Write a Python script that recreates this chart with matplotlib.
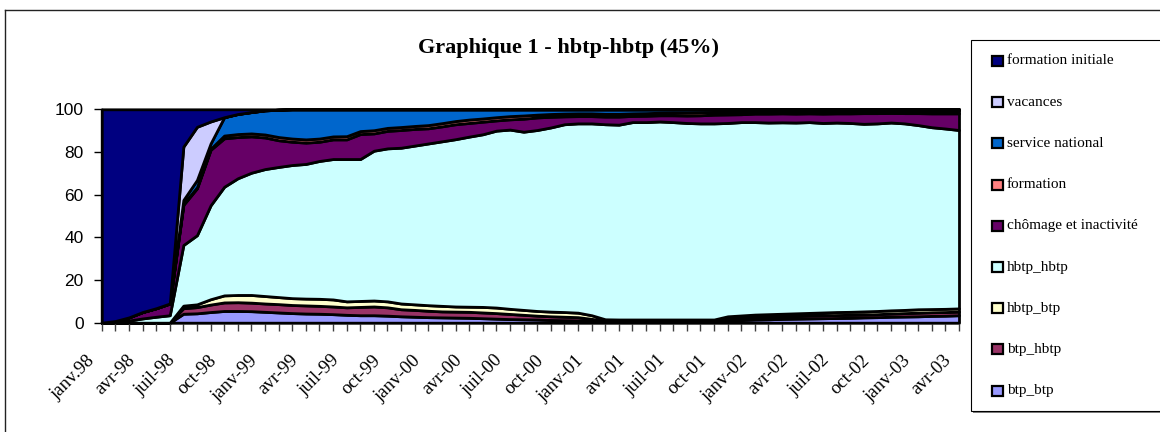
import numpy as np
import matplotlib
matplotlib.use("Agg")
import matplotlib.pyplot as plt
import matplotlib.transforms as mtransforms
from matplotlib.patches import Rectangle
from matplotlib.lines import Line2D

# ---------------- données : parts mensuelles (%) de janv.98 à avr.03 ----------------
tick_labels = ["janv.98", "avr-98", "juil-98", "oct-98",
               "janv-99", "avr-99", "juil-99", "oct-99",
               "janv-00", "avr-00", "juil-00", "oct-00",
               "janv-01", "avr-01", "juil-01", "oct-01",
               "janv-02", "avr-02", "juil-02", "oct-02",
               "janv-03", "avr-03"]

noms = ["btp_btp", "btp_hbtp", "hbtp_btp", "hbtp_hbtp", "chômage et inactivité",
        "formation", "service national", "vacances", "formation initiale"]

btp_btp = [0, 0, 0, 0, 0, 0,
           4.2, 4.4, 5.0, 5.5, 5.5, 5.4, 5.1, 4.8, 4.5, 4.3,
           4.2, 4.0, 3.7, 3.5, 3.5, 3.3, 3.0, 2.8, 2.6, 2.5,
           2.4, 2.3, 2.1, 1.9, 1.7, 1.6, 1.5, 1.3, 1.2, 1.1,
           0.8, 0.6, 0.6, 0.6, 0.6, 0.6, 0.6, 0.6, 0.6, 0.6,
           1.0, 1.3, 1.5, 1.6, 1.8, 1.9, 2.0, 2.1, 2.2, 2.3,
           2.5, 2.6, 2.8, 2.9, 3.0, 3.2, 3.3, 3.5]

btp_hbtp = [0, 0, 0, 0, 0, 0,
            2.6, 2.9, 3.5, 4.0, 4.1, 4.0, 3.9, 3.9, 3.8, 3.8,
            3.7, 3.6, 3.5, 3.9, 4.1, 3.9, 3.3, 3.2, 3.0, 2.8,
            2.8, 2.8, 2.7, 2.6, 2.4, 2.1, 1.8, 1.7, 1.6, 1.5,
            1.0, 0.4, 0.4, 0.4, 0.4, 0.4, 0.4, 0.4, 0.4, 0.4,
            1.0, 1.0, 1.1, 1.2, 1.2, 1.3, 1.4, 1.4, 1.4, 1.4,
            1.4, 1.4, 1.5, 1.6, 1.7, 1.7, 1.7, 1.7]

hbtp_btp = [0, 0, 0, 0, 0, 0,
            1.2, 1.3, 2.5, 3.3, 3.4, 3.6, 3.5, 3.3, 3.2, 3.2,
            3.3, 3.3, 2.8, 2.8, 2.8, 2.8, 2.7, 2.6, 2.6, 2.6,
            2.4, 2.4, 2.6, 2.6, 2.4, 2.3, 2.2, 2.2, 2.2, 2.1,
            1.7, 0.6, 0.5, 0.5, 0.5, 0.5, 0.5, 0.5, 0.5, 0.5,
            1.0, 1.1, 1.2, 1.2, 1.2, 1.2, 1.2, 1.3, 1.4, 1.4,
            1.4, 1.5, 1.5, 1.5, 1.6, 1.5, 1.5, 1.5]

hbtp_hbtp = [0, 0.3, 1.0, 2.0, 2.8, 3.5,
             28.4, 32.4, 44.0, 50.9, 54.7, 57.3, 59.5, 61.0, 62.4, 63.1,
             64.6, 65.8, 66.7, 66.5, 70.2, 71.7, 73.0, 74.4, 75.8, 77.1,
             78.4, 79.7, 80.9, 82.9, 84.0, 83.5, 84.8, 86.3, 88.0, 88.7,
             89.9, 91.4, 91.3, 92.5, 92.5, 92.8, 92.5, 92.1, 91.9, 91.9,
             90.6, 90.6, 90.2, 89.8, 89.7, 89.4, 89.4, 88.8, 88.8, 88.5,
             87.9, 87.9, 88.0, 87.4, 86.3, 85.2, 84.5, 83.6]

chomage = [0, 0.5, 1.5, 3.0, 4.0, 5.5,
           18.8, 22.0, 26.0, 22.7, 19.3, 17.0, 14.8, 12.5, 10.9, 10.0,
           9.0, 9.2, 9.2, 11.7, 8.1, 8.2, 8.3, 7.8, 7.1, 7.0,
           7.0, 6.4, 5.9, 4.8, 4.8, 6.1, 5.9, 5.0, 3.7, 3.4,
           3.4, 3.6, 3.8, 2.9, 3.0, 2.9, 3.2, 3.5, 3.8, 4.1,
           4.0, 3.7, 4.0, 4.2, 4.2, 4.2, 4.1, 4.4, 4.3, 4.5,
           5.0, 4.8, 4.5, 4.8, 5.6, 6.5, 7.1, 7.8]

formation = [0, 0, 0, 0, 0, 0,
             0.5, 0.5, 0.5, 1.3, 1.4, 1.4, 1.4, 1.5, 1.5, 1.5,
             1.5, 1.4, 1.5, 1.4, 1.5, 1.4, 1.4, 1.4, 1.5, 1.5,
             1.5, 1.6, 1.5, 1.5, 1.5, 1.5, 1.3, 1.3, 1.3, 1.3,
             1.3, 1.3, 1.3, 1.2, 1.2, 1.2, 1.3, 1.4, 1.4, 1.2,
             1.2, 1.2, 1.0, 1.0, 1.0, 1.0, 1.0, 1.1, 1.1, 1.1,
             1.0, 1.1, 1.0, 1.1, 1.1, 1.2, 1.2, 1.2]

service_national = [0, 0, 0, 0, 0, 0,
                    1.8, 3.4, 2.5, 8.6, 9.4, 10.0, 11.3, 12.8, 13.7, 14.1,
                    13.7, 12.7, 12.6, 10.2, 9.8, 8.7, 8.3, 7.8, 7.4, 6.5,
                    5.5, 4.8, 4.3, 3.7, 3.2, 2.9, 2.5, 2.2, 2.0, 1.9,
                    1.9, 2.1, 2.1, 1.9, 1.8, 1.6, 1.5, 1.5, 1.4, 1.3,
                    1.2, 1.1, 1.0, 1.0, 0.9, 1.0, 0.9, 0.9, 0.8, 0.8,
                    0.8, 0.7, 0.7, 0.7, 0.7, 0.7, 0.7, 0.7]

vacances = [0, 0, 0, 0, 0, 0,
            25.0, 24.9, 10.3, 0, 0, 0, 0, 0, 0, 0,
            0, 0, 0, 0, 0, 0, 0, 0, 0, 0,
            0, 0, 0, 0, 0, 0, 0, 0, 0, 0,
            0, 0, 0, 0, 0, 0, 0, 0, 0, 0,
            0, 0, 0, 0, 0, 0, 0, 0, 0, 0,
            0, 0, 0, 0, 0, 0, 0, 0]

formation_initiale = [100, 99.2, 97.5, 95.0, 93.2, 91.0,
                      17.5, 8.2, 5.7, 3.7, 2.2, 1.3, 0.5, 0.2, 0, 0,
                      0, 0, 0, 0, 0, 0, 0, 0, 0, 0,
                      0, 0, 0, 0, 0, 0, 0, 0, 0, 0,
                      0, 0, 0, 0, 0, 0, 0, 0, 0, 0,
                      0, 0, 0, 0, 0, 0, 0, 0, 0, 0,
                      0, 0, 0, 0, 0, 0, 0, 0]

couleurs = ["#9999FF", "#993366", "#FFFFCC", "#CCFFFF", "#660066",
            "#FF8080", "#0066CC", "#CCCCFF", "#000080"]

series = [btp_btp, btp_hbtp, hbtp_btp, hbtp_hbtp, chomage,
          formation, service_national, vacances, formation_initiale]

# ---------------- figure ----------------
W, H = 1160, 432
fig = plt.figure(figsize=(W / 100, H / 100), dpi=100)
fig.patch.set_facecolor("white")

x0, x1, y_top, y_bot = 101.7, 959.0, 109.3, 322.7
ax = fig.add_axes([x0 / W, 1 - y_bot / H, (x1 - x0) / W, (y_bot - y_top) / H])

x = np.arange(len(btp_btp))
polys = ax.stackplot(x, *series, colors=couleurs, edgecolor="black", linewidth=2.0)
for p in polys:
    p.set_clip_on(False)
    p.set_joinstyle("round")

ax.set_xlim(0, len(x) - 1)
ax.set_ylim(0, 100)
for s in ["top", "right"]:
    ax.spines[s].set_visible(False)
for s in ["left", "bottom"]:
    ax.spines[s].set_color("black")
    ax.spines[s].set_linewidth(1)

# axe des ordonnées
ax.set_yticks(range(0, 101, 20))
ax.tick_params(axis="y", direction="out", length=6, width=1, color="black", pad=7)
for lab in ax.get_yticklabels():
    lab.set_fontfamily("Liberation Sans")
    lab.set_fontsize(12.5)

# axe des abscisses : un trait par mois, une étiquette par trimestre
ax.set_xticks(x[::3])
ax.set_xticks(x, minor=True)
ax.set_xticklabels(tick_labels, rotation=45, ha="right", va="top",
                   rotation_mode="anchor", fontfamily="Liberation Serif", fontsize=13.5)
ax.tick_params(axis="x", which="both", direction="out", length=6, width=1,
               color="#404040", pad=15)
decal = mtransforms.ScaledTranslation(-16 / 100, 0, fig.dpi_scale_trans)
for lab in ax.get_xticklabels():
    lab.set_transform(lab.get_transform() + decal)

# titre
fig.text(568 / W, 1 - 48 / H, "Graphique 1 - hbtp-hbtp (45%)", ha="center", va="center",
         fontfamily="Liberation Serif", fontweight="bold", fontsize=16)

# cadre du graphique
fig.add_artist(Line2D([5 / W, 1], [1 - 9.5 / H, 1 - 9.5 / H], color="#222222", lw=1))
fig.add_artist(Line2D([5 / W, 5 / W], [1 - 9.5 / H, 0], color="#222222", lw=1))

# légende
lx0, ly0, ly1 = 971, 40, 411
fig.add_artist(Rectangle((lx0 / W + 2 / W, 1 - (ly1 + 2) / H), (W - lx0) / W, (ly1 - ly0) / H,
                         transform=fig.transFigure, facecolor="#808080", edgecolor="none"))
fig.add_artist(Rectangle((lx0 / W, 1 - ly1 / H), (W - lx0 + 5) / W, (ly1 - ly0) / H,
                         transform=fig.transFigure, facecolor="white", edgecolor="black", lw=0.8))
for k, idx in enumerate(range(len(noms) - 1, -1, -1)):
    yc = 61 + k * 41.2
    fig.add_artist(Rectangle((992 / W, 1 - (yc + 5) / H), 11 / W, 10 / H,
                             transform=fig.transFigure, facecolor=couleurs[idx],
                             edgecolor="black", lw=1.6))
    fig.text(1007 / W, 1 - yc / H, noms[idx], ha="left", va="center",
             fontfamily="Liberation Serif", fontsize=11)

fig.savefig("out.png", dpi=100)
